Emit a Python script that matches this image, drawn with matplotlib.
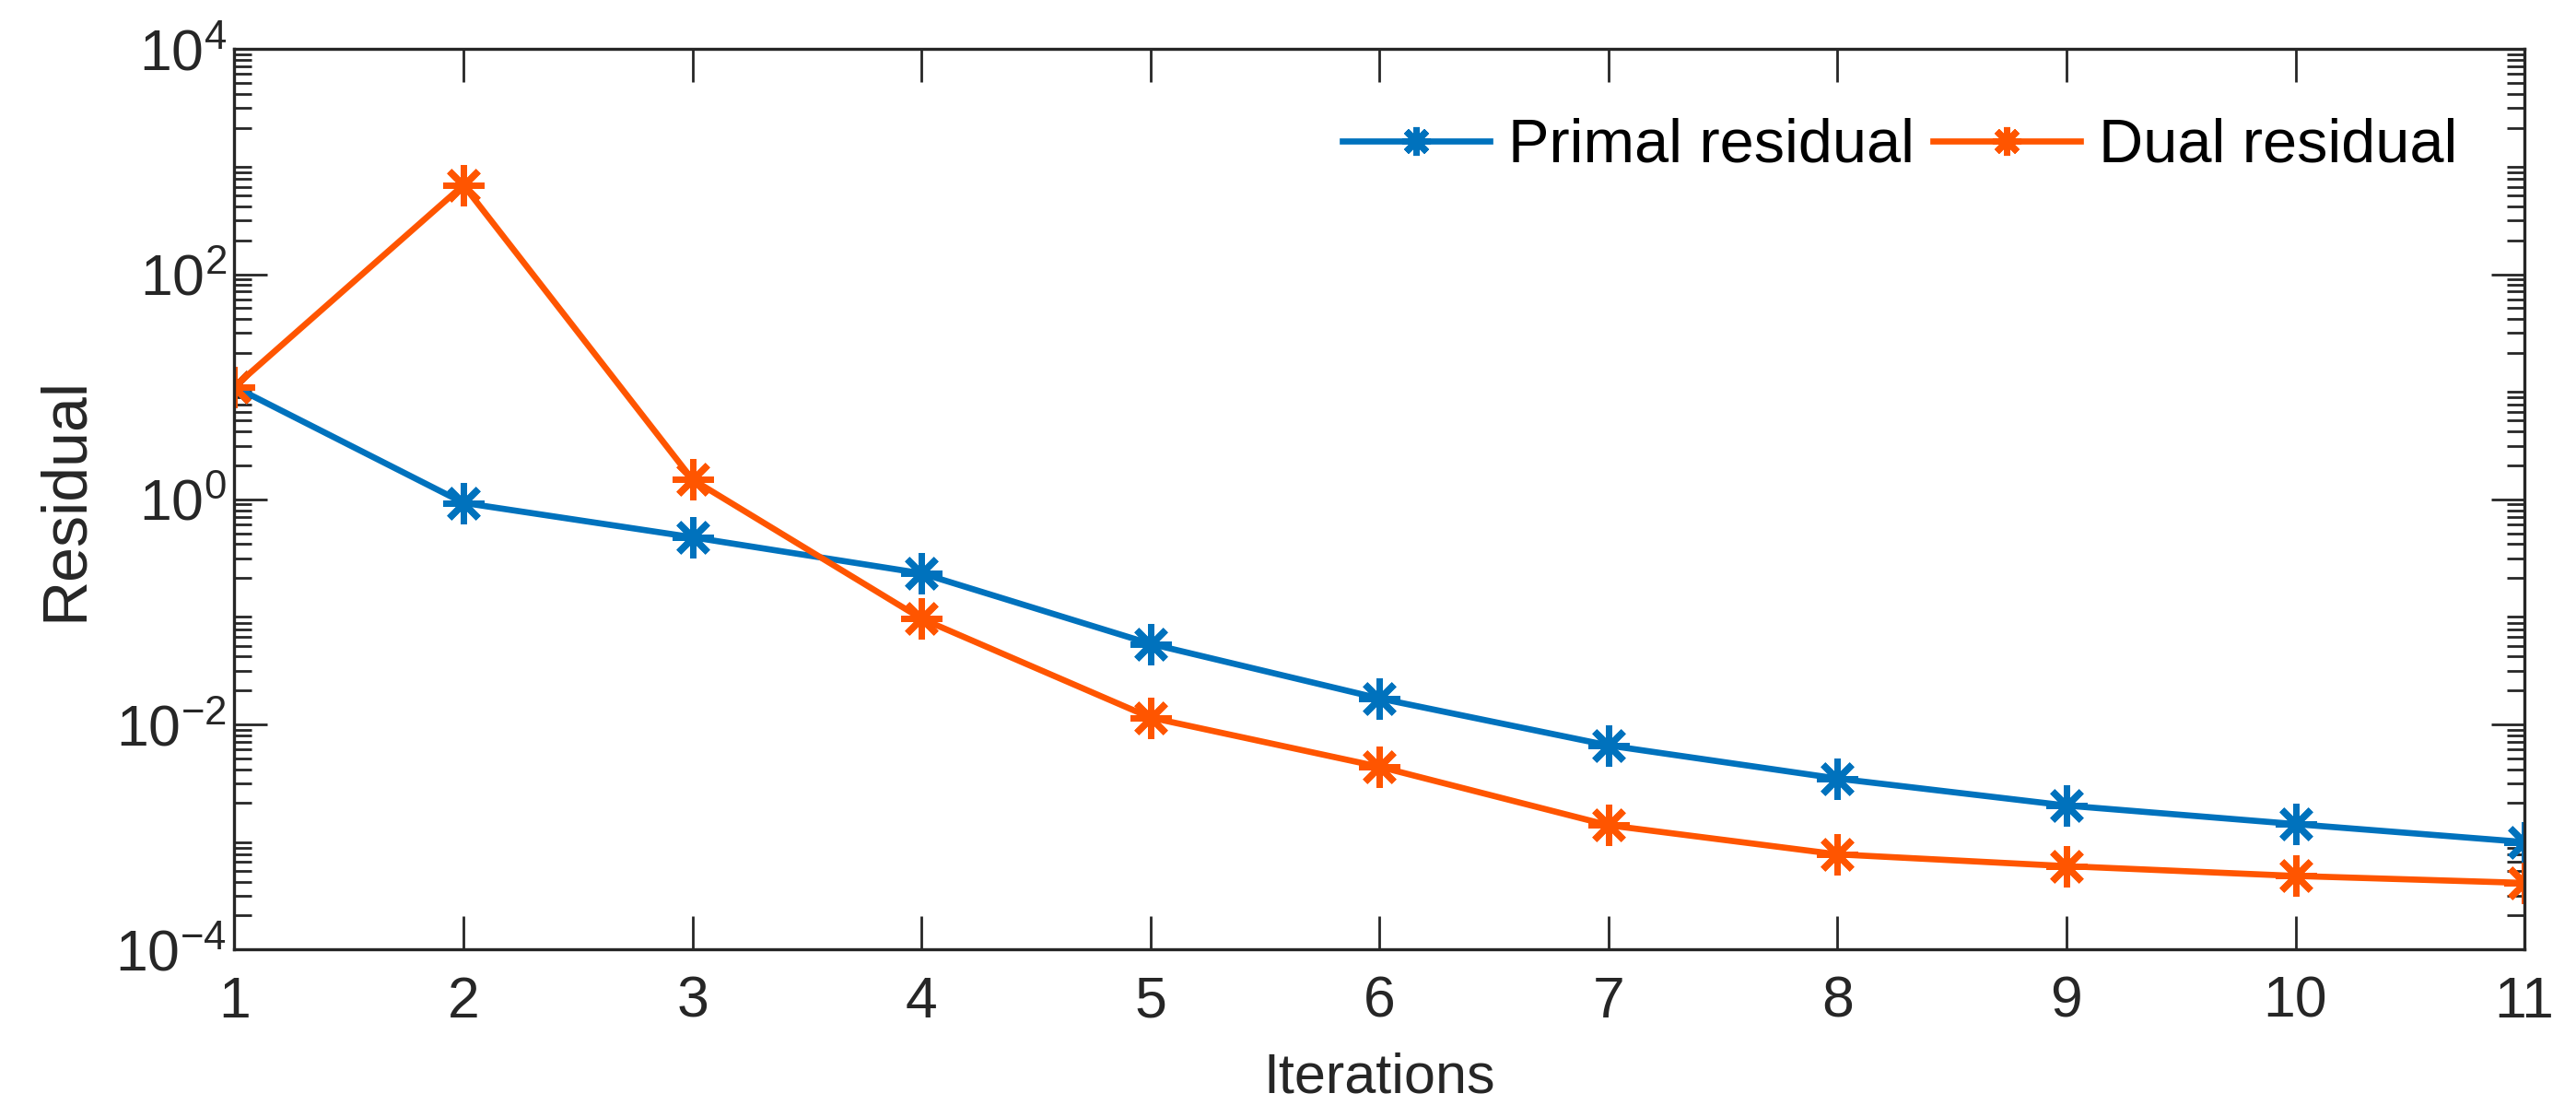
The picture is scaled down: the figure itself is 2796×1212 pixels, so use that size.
import matplotlib.pyplot as plt
from matplotlib.ticker import LogLocator, NullFormatter, FixedLocator

iterations = [1, 2, 3, 4, 5, 6, 7, 8, 9, 10, 11]
primal = [10.0, 0.93, 0.46, 0.22, 0.052, 0.017, 0.0065, 0.0033, 0.0019, 0.0013, 0.0009]
dual = [10.0, 620.0, 1.5, 0.087, 0.0115, 0.0042, 0.00127, 0.0007, 0.00055, 0.00045, 0.00039]

plt.rcParams['font.family'] = ['Liberation Sans', 'DejaVu Sans']
plt.rcParams['mathtext.fontset'] = 'custom'
plt.rcParams['mathtext.rm'] = 'Liberation Sans'

fig = plt.figure(figsize=(27.96, 12.12), dpi=100)
ax = fig.add_axes([0.091, 0.15, 0.889, 0.806])

# MATLAB style asterisk marker
star = (8, 2, 0)
ax.plot(iterations, primal, color='#0072BD', lw=4.8, marker=star, ms=32, mew=5,
        label='Primal residual')
ax.plot(iterations, dual, color='#FF5500', lw=4.8, marker=star, ms=32, mew=5,
        label='Dual residual')

ax.set_yscale('log')
ax.set_ylim(1e-4, 1e4)
ax.set_xlim(1, 11)
ax.xaxis.set_major_locator(FixedLocator(iterations))
ax.yaxis.set_major_locator(FixedLocator([1e-4, 1e-2, 1e0, 1e2, 1e4]))
ax.yaxis.set_minor_locator(LogLocator(base=10, subs=range(2, 10), numticks=20))
ax.yaxis.set_minor_formatter(NullFormatter())
ax.set_yticklabels([r'$10^{-4}$', r'$10^{-2}$', r'$10^{0}$', r'$10^{2}$', r'$10^{4}$'])

ax.tick_params(which='both', direction='in', top=True, right=True, colors='#262626',
               labelsize=45, width=2.0)
ax.tick_params(axis='x', pad=20)
ax.tick_params(axis='y', pad=6)
ax.tick_params(which='major', length=26)
ax.tick_params(which='minor', length=14)
for s in ax.spines.values():
    s.set_linewidth(2.4)
    s.set_color('#262626')

ax.set_xlabel('Iterations', fontsize=44, color='#262626', labelpad=18)
ax.set_ylabel('Residual', fontsize=49, color='#262626', labelpad=16)

leg = ax.legend(loc='upper right', ncol=2, frameon=False, fontsize=48,
                markerscale=0.7, handlelength=2.4, columnspacing=0.3,
                handletextpad=0.3, bbox_to_anchor=(0.995, 0.985))

plt.savefig('out.png', dpi=100)
